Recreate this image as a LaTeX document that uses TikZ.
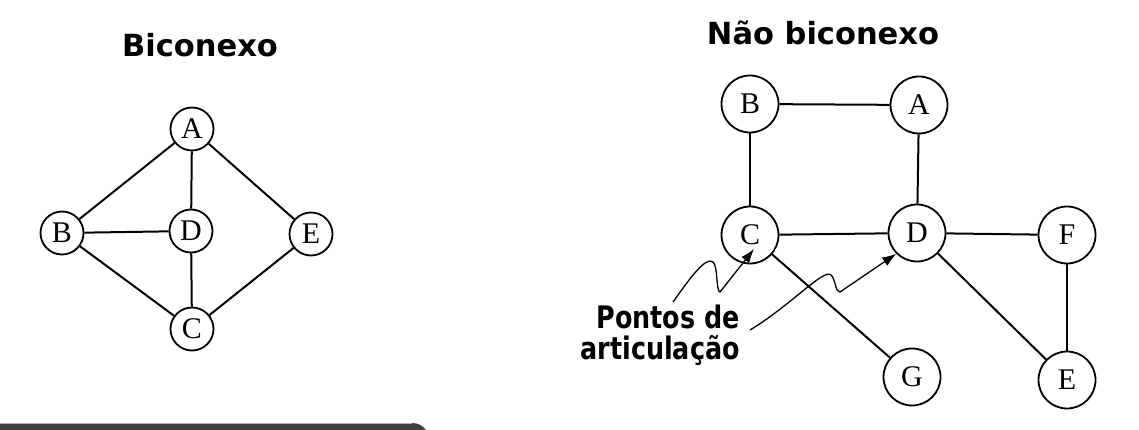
\documentclass[tikz,border=0pt]{standalone}
\usepackage{fontspec}
\setmainfont{Liberation Serif}
\newfontfamily\titlefont{DejaVu Sans}
\newfontfamily\labelfont[FakeStretch=0.82]{DejaVu Sans}
\usetikzlibrary{arrows.meta}
\usetikzlibrary{calc,positioning}
\definecolor{barcolor}{HTML}{404040}

\begin{document}
\begin{tikzpicture}[x=1pt,y=-1pt]
    \tikzstyle{vertex} = [draw, circle, line width=1.8pt, inner sep=0pt, minimum size=\smallSize, font=\fontsize{30}{30}\selectfont]
    \tikzstyle{big vertex} = [vertex, minimum size=\bigSize, font=\fontsize{30}{30}\selectfont]
    \tikzstyle{edge} = [draw, line width=2pt]
    \tikzstyle{wavy line} = [draw, line width=1.3pt, -{Latex[length=14pt,width=10pt]}]
    \tikzstyle{title} = [anchor=base, inner sep=0pt, font=\titlefont\bfseries\fontsize{30.5}{30.5}\selectfont]

    \def\smallSize{43pt}
    \def\bigSize{57pt}

    \useasboundingbox (0,0) rectangle (1139,430);

    % bar at the bottom
    \fill[barcolor] (0,431) -- (0,423) -- (412,423) .. controls (419,423) and (423,426) .. (427,431) -- cycle;
    \draw[gray!60, line width=0.8pt] (0,423.4) -- (412,423.4);

    % biconexo
    \node (T1) [title] at (200,57) {Biconexo};

    \node (A1) [vertex] at (192,129) {A};
    \node (B1) [vertex] at (62,233) {B};
    \node (D1) [vertex] at (191,231) {D};
    \node (E1) [vertex] at (311,234) {E};
    \node (C1) [vertex] at (192,329) {C};

    \path [edge] (A1) -- (B1);
    \path [edge] (A1) -- (D1);
    \path [edge] (A1) -- (E1);
    \path [edge] (B1) -- (D1);
    \path [edge] (B1) -- (C1);
    \path [edge] (D1) -- (C1);
    \path [edge] (E1) -- (C1);

    % nao biconexo
    \node (T2) [title] at (823,45) {Não biconexo};

    \node (B) [big vertex] at (750,104) {B};
    \node (A) [big vertex] at (919,105) {A};
    \node (C) [big vertex] at (750,235) {C};
    \node (D) [big vertex] at (917,233) {D};
    \node (F) [big vertex] at (1067,235) {F};
    \node (G) [big vertex] at (912,377) {G};
    \node (E) [big vertex] at (1067,380) {E};

    \path [edge] (B) -- (A);
    \path [edge] (B) -- (C);
    \path [edge] (A) -- (D);
    \path [edge] (C) -- (D);
    \path [edge] (C) -- (G);
    \path [edge] (D) -- (F);
    \path [edge] (D) -- (E);
    \path [edge] (F) -- (E);

    \node (pontos) [%
        anchor=base east,
        align=right,
        inner sep=0pt,
        font=\labelfont\bfseries\fontsize{31}{31}\selectfont
    ] at (740,359) {Pontos de\\articulação};

    \coordinate (p1) at (673,302);
    \coordinate (p2) at (750,330);

    \path [wavy line] (p1) .. controls (690,278) and (706,256) .. (713,262)
        .. controls (718,266) and (716,292) .. (720,292) -- ($(C)+(4,14)$);
    \path [wavy line] (p2) .. controls (790,306) and (824,268) .. (831,275)
        .. controls (836,280) and (835,292) .. (840,292) -- (D.south west);
\end{tikzpicture}
\end{document}
